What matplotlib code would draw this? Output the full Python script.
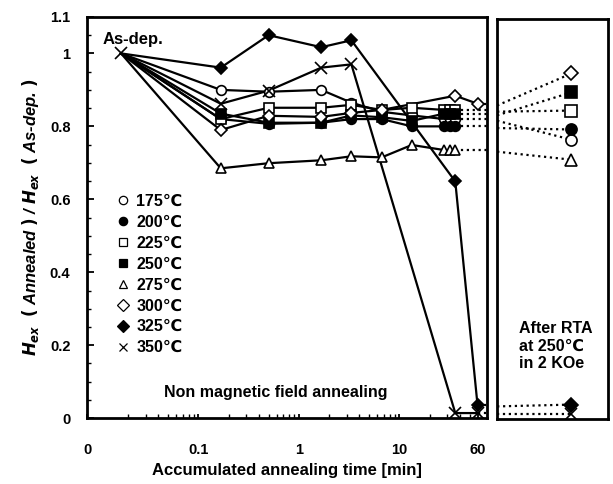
import matplotlib.pyplot as plt
from matplotlib.ticker import FixedLocator, NullFormatter
import numpy as np

plt.rcParams['font.family'] = ['Liberation Sans', 'DejaVu Sans']
plt.rcParams['font.weight'] = 'bold'

# accumulated annealing time [min]; first point is the as-deposited state
times = [0.017, 0.167, 0.5, 1.67, 3.33, 6.67, 13.3, 28, 32, 36, 60]
nan = np.nan

labels = ['175℃', '200℃', '225℃', '250℃', '275℃', '300℃', '325℃', '350℃']
h175 = [1.0, 0.90, 0.895, 0.90, 0.865, 0.84, 0.83, 0.82, 0.82, 0.82, nan]
h200 = [1.0, 0.82, 0.807, 0.81, 0.82, 0.82, 0.80, 0.80, 0.80, 0.80, nan]
h225 = [1.0, 0.82, 0.851, 0.851, 0.859, 0.845, 0.851, 0.845, 0.845, 0.845, nan]
h250 = [1.0, 0.835, 0.81, 0.81, 0.83, 0.825, 0.815, 0.835, 0.835, 0.835, nan]
h275 = [1.0, 0.685, 0.699, 0.707, 0.718, 0.715, 0.749, 0.735, 0.735, 0.735, nan]
h300 = [1.0, 0.79, 0.829, 0.826, 0.837, 0.845, nan, nan, nan, 0.884, 0.862]
h325 = [1.0, 0.961, 1.05, 1.017, 1.036, nan, nan, nan, nan, 0.649, 0.035]
h350 = [1.0, 0.862, 0.898, 0.961, 0.970, nan, nan, nan, nan, 0.014, 0.014]
series = [h175, h200, h225, h250, h275, h300, h325, h350]

# after RTA at 250 C in 2 kOe
rta = [0.768, 0.796, 0.848, 0.898, 0.713, 0.950, 0.04, 0.014]

markers = ['o', 'o', 's', 's', '^', 'D', 'D', 'x']
fills = ['white', 'black', 'white', 'black', 'white', 'white', 'black', 'none']
msizes = [7, 7, 7, 7, 7, 6, 6, 8]

fig = plt.figure(figsize=(6.13, 4.84), dpi=100)
ax = fig.add_axes([0.142, 0.136, 0.652, 0.829])
ax2 = fig.add_axes([0.811, 0.134, 0.181, 0.827])

xlo, xhi = 0.0078, 74
for i, ys in enumerate(series):
    t = np.array(times)
    y = np.array(ys)
    ok = ~np.isnan(y)
    ax.plot(t[ok], y[ok], color='black', lw=1.6, zorder=2)
    start = 0 if markers[i] == 'x' else 1
    ax.plot(t[ok][start:], y[ok][start:], ls='none', marker=markers[i],
            mfc=fills[i], mec='black', ms=msizes[i], mew=1.2, zorder=3,
            label=labels[i])
    last_t, last_y = t[ok][-1], y[ok][-1]
    ax.plot([last_t, xhi], [last_y, last_y], color='black', ls=':', lw=1.6, zorder=1)
    ax2.plot([0, 0.67], [last_y, rta[i]], color='black', ls=':', lw=1.6, zorder=1)
    ax2.plot([0.67], [rta[i]], ls='none', marker=markers[i], mfc=fills[i],
             mec='black', ms=msizes[i] + 1, mew=1.2, zorder=3)

ax.set_xscale('log')
ax.set_xlim(xlo, xhi)
ax.set_ylim(0, 1.1)
ax.set_xticks([xlo, 0.1, 1, 10, 60])
ax.set_xticklabels(['0', '0.1', '1', '10', '60'])
ax.xaxis.set_minor_locator(FixedLocator(
    [m * d for d in [0.01, 0.1, 1, 10] for m in range(2, 10) if xlo < m * d < 60]))
ax.xaxis.set_minor_formatter(NullFormatter())
ax.set_yticks([0, 0.2, 0.4, 0.6, 0.8, 1.0, 1.1])
ax.set_yticklabels(['0', '0.2', '0.4', '0.6', '0.8', '1', '1.1'])
ax.yaxis.set_minor_locator(FixedLocator(np.arange(0.05, 1.1, 0.05)))
ax.tick_params(which='both', direction='in', labelsize=10.5)
ax.tick_params(axis='y', which='both', pad=12)
ax.tick_params(axis='x', which='both', pad=18)
ax.tick_params(which='major', length=5, width=1.3)
ax.tick_params(which='minor', length=3, width=1.0)
ax.tick_params(axis='x', which='major', length=3)
for s in ax.spines.values():
    s.set_linewidth(2)

ax.set_xlabel('Accumulated annealing time [min]', fontsize=12, fontweight='bold', labelpad=4)
ax.set_ylabel(r'$\mathbf{\mathit{H}_{\mathit{ex}}}$  $\mathbf{(}$ Annealed $\mathbf{)}$ / '
              r'$\mathbf{\mathit{H}_{\mathit{ex}}}$  $\mathbf{(}$ As-dep. $\mathbf{)}$',
              fontsize=12, fontstyle='italic', fontweight='bold', labelpad=6)

ax.text(0.0112, 1.06, 'As-dep.', fontsize=12, fontweight='bold', va='top')
ax.text(0.59, 0.07, 'Non magnetic field annealing', fontsize=11.5,
        fontweight='bold', ha='center', va='center')

leg = ax.legend(loc='upper left', bbox_to_anchor=(0.055, 0.575), frameon=False,
                fontsize=11.5, handletextpad=0.3, labelspacing=0.37,
                handlelength=1.0, borderaxespad=0)
for h in leg.legend_handles:
    h.set_markersize(6)
    h.set_markeredgewidth(0.9)

ax2.set_xlim(0, 1)
ax2.set_ylim(0, 1.1)
ax2.set_xticks([])
ax2.set_yticks([])
for s in ax2.spines.values():
    s.set_linewidth(2)
ax2.text(0.2, 0.2, 'After RTA\nat 250℃\nin 2 KOe', fontsize=11.5,
         fontweight='bold', va='center', ha='left', linespacing=1.2)

fig.savefig('out.png', dpi=100)
